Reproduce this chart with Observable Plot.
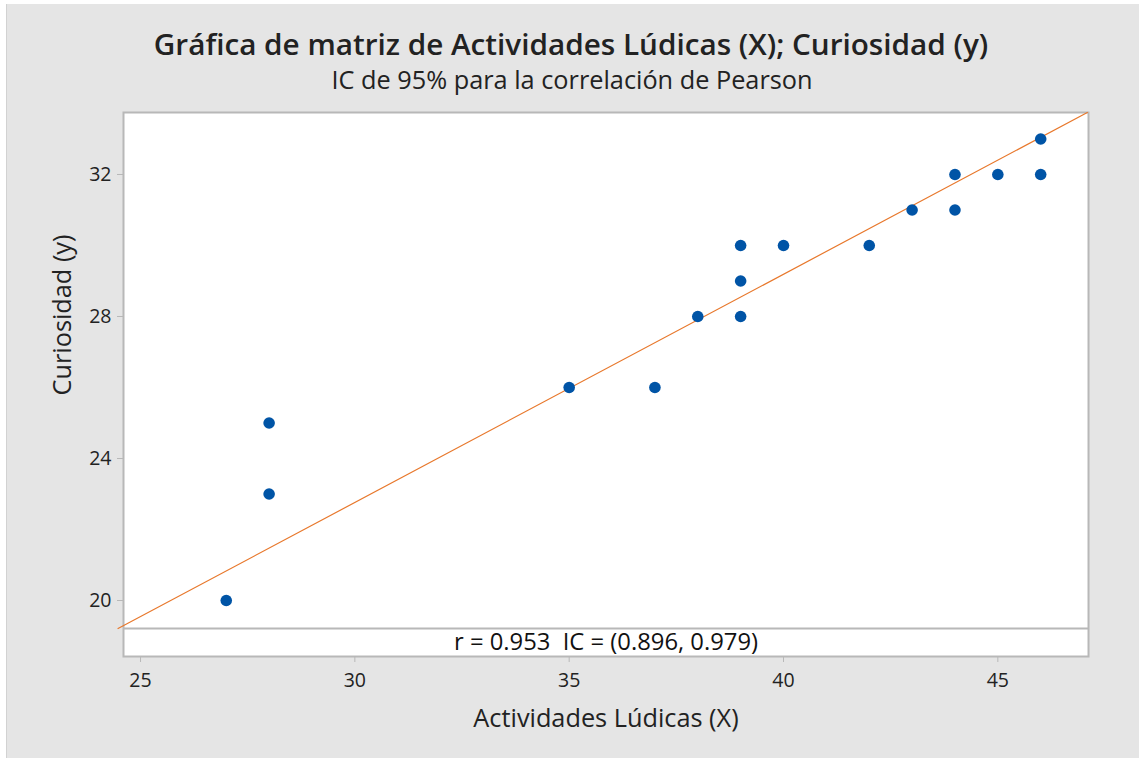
<!DOCTYPE html>
<html>
<head>
<meta charset="utf-8">
<script src="https://cdn.jsdelivr.net/npm/d3@7"></script>
<script src="https://cdn.jsdelivr.net/npm/@observablehq/plot@0.6"></script>
<style>
  html, body { margin: 0; padding: 0; background: #ffffff; }
  #chart { position: absolute; left: 6px; top: 4px; width: 1133px; height: 754px; background: #e5e5e5; border-left: 1px solid #d2d2d2; }
  svg { display: block; }
</style>
</head>
<body>
<div id="chart"></div>
<script>
// Data
const actividades = [27, 28, 28, 35, 37, 38, 39, 39, 39, 40, 42, 43, 44, 44, 45, 46, 46];
const curiosidad  = [20, 25, 23, 26, 26, 28, 30, 29, 28, 30, 30, 31, 32, 31, 32, 33, 32];
const xTicks = [25, 30, 35, 40, 45];
const yTicks = [20, 24, 28, 32];
const fitIntercept = 3.478;
const fitSlope = 0.6428;
const titleText = "Gráfica de matriz de Actividades Lúdicas (X); Curiosidad (y)";
const subtitleText = "IC de 95% para la correlación de Pearson";
const annotText = "r = 0.953  IC = (0.896, 0.979)";
const xLabel = "Actividades Lúdicas (X)";
const yLabel = "Curiosidad (y)";

const xDomain = [24.603, 47.115];
const yDomain = [18.423, 33.746];
const yAnnot = 19.211; // separator between data area and annotation row

const points = actividades.map((x, i) => ({x, y: curiosidad[i]}));

// regression line, from the annotation separator up to the top of the frame
const fitLine = [yAnnot, yDomain[1]].map(y => ({x: (y - fitIntercept) / fitSlope, y}));

const font = "'Open Sans', 'Noto Sans', sans-serif";
const gray = "#b8b8b8";

const chart = Plot.plot({
  width: 1133,
  height: 754,
  marginLeft: 116,
  marginRight: 52,
  marginTop: 108,
  marginBottom: 102,
  style: {background: "transparent", fontFamily: font, color: "#222"},
  x: {domain: xDomain, ticks: xTicks},
  y: {domain: yDomain, ticks: yTicks},
  marks: [
    Plot.frame({fill: "white", stroke: gray, strokeWidth: 2}),
    Plot.ruleY([yAnnot], {stroke: gray, strokeWidth: 2}),
    Plot.axisX({ticks: xTicks, tickSize: 6, stroke: gray, tickFormat: () => "", label: null}),
    Plot.axisY({ticks: yTicks, tickSize: 6, stroke: gray, tickFormat: () => "", label: null}),
    Plot.text(xTicks, {x: d => d, frameAnchor: "bottom", dy: 24, lineAnchor: "middle", fontSize: 19.5, fill: "#222"}),
    Plot.text(yTicks, {y: d => d, frameAnchor: "left", dx: -12, textAnchor: "end", lineAnchor: "middle", fontSize: 19.5, fill: "#222"}),
    Plot.line(fitLine, {x: "x", y: "y", stroke: "#e8782c", strokeWidth: 1.2, clip: false}),
    Plot.dot(points, {x: "x", y: "y", r: 5.8, fill: "#0054a6", stroke: "none"}),
    Plot.text([annotText], {frameAnchor: "bottom", dy: -14, lineAnchor: "middle", fontSize: 23.8, fill: "#111"}),
    Plot.text([xLabel], {frameAnchor: "bottom", dy: 62, lineAnchor: "middle", fontSize: 25.3, fill: "#222"}),
    Plot.text([yLabel], {frameAnchor: "left", dx: -61, dy: 11, rotate: -90, lineAnchor: "middle", fontSize: 25.3, fill: "#222"}),
    Plot.text([titleText], {frameAnchor: "top", dx: -35, dy: -67, lineAnchor: "middle", fontSize: 29.7, fontWeight: 600, fill: "#222"}),
    Plot.text([subtitleText], {frameAnchor: "top", dx: -34, dy: -32, lineAnchor: "middle", fontSize: 25.3, fill: "#222"})
  ]
});
document.getElementById("chart").appendChild(chart);
</script>
</body>
</html>
